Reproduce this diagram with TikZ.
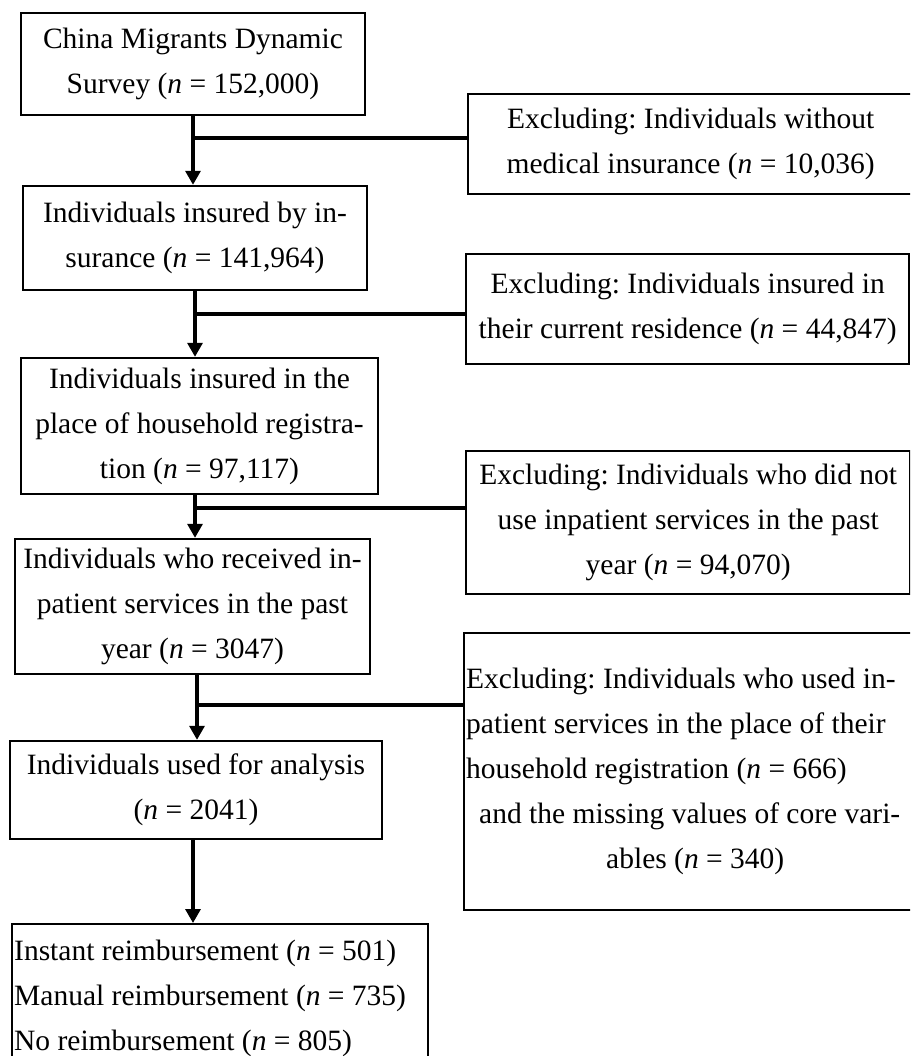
\documentclass[tikz,border=0pt]{standalone}
\usepackage{fontspec}
\setmainfont{Liberation Serif}
\usetikzlibrary{arrows.meta}
\begin{document}
\frenchspacing
\begin{tikzpicture}[x=1pt,y=-1pt,
  box/.style={draw, line width=2.4pt, align=center, inner sep=0pt, font=\fontsize{29.5}{45}\selectfont\frenchspacing},
  conn/.style={line width=3.2pt},
  arr/.style={conn, -{Triangle[width=15pt,length=14pt]}}]
\clip (0,0) rectangle (910,1056);
% main column
\node[box, minimum width=344pt, minimum height=102pt] (B1) at (193,64)
  {China Migrants Dynamic\\Survey (\textit{n} = 152,000)};
\node[box, minimum width=344pt, minimum height=104pt] (B2) at (195,238)
  {Individuals insured by in-\\surance (\textit{n} = 141,964)};
\node[box, minimum width=357pt, minimum height=136pt] (B3) at (199.5,426)
  {Individuals insured in the\\place of household registra-\\tion (\textit{n} = 97,117)};
\node[box, minimum width=355pt, minimum height=135pt] (B4) at (192.5,606.5)
  {Individuals who received in-\\patient services in the past\\year (\textit{n} = 3047)};
\node[box, minimum width=372pt, minimum height=98pt] (B5) at (196,790)
  {Individuals used for analysis\\(\textit{n} = 2041)};
\node[box, anchor=north west, align=flush left, text width=412pt, inner xsep=2pt, inner ysep=16pt] (B6) at (11,923)
  {Instant reimbursement (\textit{n} = 501)\\Manual reimbursement (\textit{n} = 735)\\No reimbursement (\textit{n} = 805)};
% exclusion boxes
\node[box, anchor=north west, minimum width=445pt, minimum height=100pt] (E1) at (467,93)
  {Excluding: Individuals without\\medical insurance (\textit{n} = 10,036)};
\node[box, anchor=north west, minimum width=443pt, minimum height=110pt] (E2) at (465,253)
  {Excluding: Individuals insured in\\their current residence (\textit{n} = 44,847)};
\node[box, anchor=north west, minimum width=444pt, minimum height=143pt] (E3) at (465,450)
  {Excluding: Individuals who did not\\use inpatient services in the past\\year (\textit{n} = 94,070)};
\node[box, anchor=north west, align=flush left, text width=600pt, inner xsep=2pt, minimum height=277pt] (E4) at (463,632)
  {Excluding: Individuals who used in-\\patient services in the place of their\\household registration (\textit{n} = 666)\\\hspace*{13pt}and the missing values of core vari-\\\hspace*{140pt}ables (\textit{n} = 340)};
% connectors
\draw[arr] (B1.south) -- (B1.south |- B2.north);
\coordinate (J1) at (193,138);
\draw[conn] (J1) -- (J1 -| E1.west);
\draw[arr] (B2.south) -- (B2.south |- B3.north);
\coordinate (J2) at (195,314);
\draw[conn] (J2) -- (J2 -| E2.west);
\draw[arr] ([xshift=-4.5pt]B3.south) -- ([xshift=-4.5pt]B3.south |- B4.north);
\coordinate (J3) at (195,508);
\draw[conn] (J3) -- (J3 -| E3.west);
\draw[arr] ([xshift=4.5pt]B4.south) -- ([xshift=4.5pt]B4.south |- B5.north);
\coordinate (J4) at (197,705);
\draw[conn] (J4) -- (J4 -| E4.west);
\draw[arr] ([xshift=-3pt]B5.south) -- ([xshift=-3pt]B5.south |- B6.north);
\end{tikzpicture}
\end{document}
